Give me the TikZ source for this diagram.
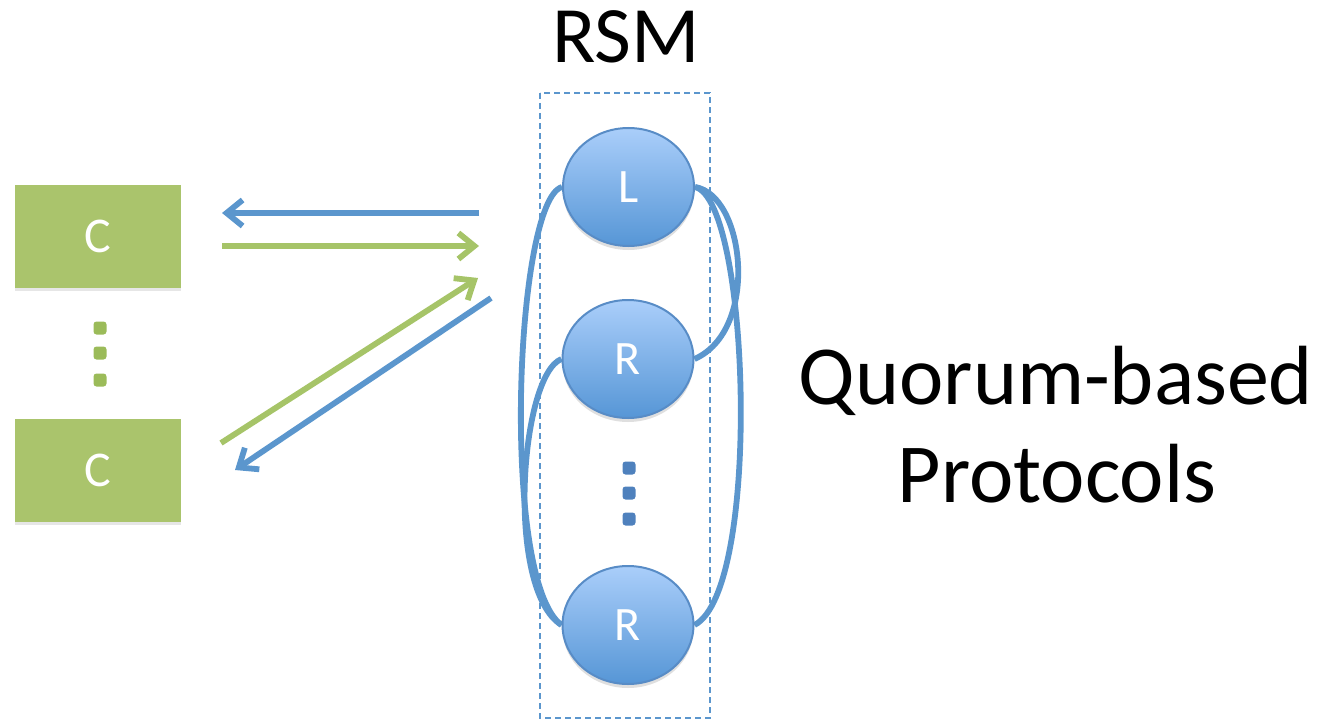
\documentclass[tikz,border=0pt]{standalone}
\usepackage{fontspec}
\setmainfont{Carlito}
\usetikzlibrary{arrows.meta,shadows,shapes.geometric,backgrounds}
\definecolor{lineblue}{RGB}{91,150,205}
\definecolor{arrgreen}{RGB}{166,196,104}
\definecolor{boxgreen}{RGB}{170,196,108}
\definecolor{ellTop}{RGB}{170,206,250}
\definecolor{ellBot}{RGB}{86,150,214}
\definecolor{ellBorder}{RGB}{88,140,198}
\definecolor{dotgreen}{RGB}{155,187,89}
\definecolor{dotblue}{RGB}{79,129,189}
\begin{document}
\begin{tikzpicture}[x=0.5pt,y=-0.5pt,
 client/.style={rectangle, fill=boxgreen, minimum width=83pt, minimum height=51.5pt, inner sep=0pt,
   text=white, font=\fontsize{25}{29}\selectfont,
   drop shadow={shadow xshift=0pt,shadow yshift=-1.5pt,opacity=0.2}},
 replica/.style={ellipse, draw=ellBorder, line width=1pt, top color=ellTop, bottom color=ellBot,
   minimum width=65.5pt, minimum height=59pt, inner sep=0pt, text=white,
   font=\fontsize{24}{28}\selectfont,
   drop shadow={shadow xshift=0pt,shadow yshift=-2pt,opacity=0.25}},
 link/.style={draw=lineblue, line width=2.9pt},
 msg/.style={line width=2.9pt, -{Straight Barb[length=8pt,width=13pt]}},
 gdot/.style={rectangle, rounded corners=1.5pt, fill=dotgreen, minimum size=6.5pt, inner sep=0pt},
 bdot/.style={rectangle, rounded corners=1.5pt, fill=dotblue, minimum size=6.5pt, inner sep=0pt},
 bigtext/.style={font=\fontsize{#1}{50}\selectfont, text=black, inner sep=0pt, anchor=base},
]
\useasboundingbox (0,0) rectangle (1326,722);

% RSM box
\node[bigtext=40] (rsmlabel) at (626,63) {RSM};
\draw[lineblue, line width=0.75pt, dash pattern=on 3pt off 2pt] (540,93) rectangle (710,718);

% clients
\node[client] (c1) at (98,236.5) {C};
\node[client] (c2) at (98,470) {C};
\node[gdot] (gd1) at (100,328) {};
\node[gdot] (gd2) at (100,353) {};
\node[gdot] (gd3) at (100,380) {};

% replicas
\node[replica] (L) at (628.5,187) {L};
\node[replica] (R1) at (628,359) {R};
\node[replica] (R2) at (628,625) {R};
\node[bdot] (bd1) at (629,468) {};
\node[bdot] (bd2) at (629,493) {};
\node[bdot] (bd3) at (629,519) {};

% quorum links
\begin{scope}[on background layer]
\draw[link] (L.west) .. controls (515,200) and (500,580) .. (R2.west);
\draw[link] (R1.west) .. controls (520,375) and (505,590) .. (R2.west);
\draw[link] (L.east) .. controls (745,195) and (760,330) .. (R1.east);
\draw[link] (L.east) .. controls (750,200) and (762,590) .. (R2.east);
\end{scope}

% messages
\coordinate (a1s) at (479,213);
\coordinate (a1e) at (222,213);
\coordinate (a2s) at (222,246);
\coordinate (a2e) at (479,246);
\coordinate (a3s) at (221,443);
\coordinate (a3e) at (478,278);
\coordinate (a4s) at (491,298);
\coordinate (a4e) at (235,470);
\draw[msg, lineblue] (a1s) -- (a1e);
\draw[msg, arrgreen] (a2s) -- (a2e);
\draw[msg, arrgreen] (a3s) -- (a3e);
\draw[msg, lineblue] (a4s) -- (a4e);

% caption
\node[bigtext=42] (q1) at (1056,404) {Quorum-based};
\node[bigtext=42] (q2) at (1057,502) {Protocols};
\end{tikzpicture}
\end{document}
